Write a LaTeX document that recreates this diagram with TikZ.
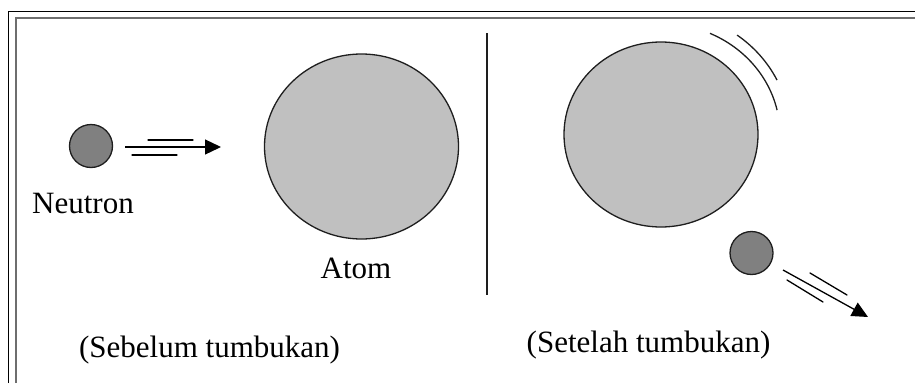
\documentclass[tikz,border=0pt]{standalone}
\usepackage{fontspec}
\setmainfont{Liberation Serif}
\usetikzlibrary{arrows.meta,positioning,shapes.geometric}
\definecolor{neutronfill}{RGB}{128,128,128}
\definecolor{atomfill}{RGB}{192,192,192}
\definecolor{rimcol}{RGB}{30,30,30}
\definecolor{framegray}{RGB}{110,110,110}
\tikzset{
  neutronbody/.style={circle, draw=rimcol, fill=neutronfill, line width=1.3pt,
    minimum size=43pt, inner sep=0pt},
  atombody/.style={ellipse, draw=rimcol, fill=atomfill, line width=1.3pt,
    minimum width=194pt, minimum height=185pt, inner sep=0pt},
  speedln/.style={line width=1.3pt, line cap=round},
  speedarr/.style={-{Triangle[length=16pt,width=15pt]}, line width=1.3pt},
  wavearc/.style={line width=1.3pt, rimcol},
  caption/.style={font=\fontsize{31}{36}\selectfont, inner sep=0pt, anchor=base},
}

\begin{document}
\begin{tikzpicture}[x=1pt, y=-1pt]
    \useasboundingbox (0,0) rectangle (915,383);
    % Frame (cut off at right and bottom)
    \draw[line width=1pt] (8.5,383) -- (8.5,11.5) -- (915,11.5);
    \draw[framegray, line width=2pt] (15.5,383) -- (15.5,18) -- (915,18);
    % Before collision
    \node[neutronbody] (nbefore) at (91,146) {};
    \node[caption] (lneutron) at (83,213) {Neutron};
    \coordinate (abefore) at (125,147);
    \coordinate (tbefore) at (221,147);
    \draw[speedarr] (abefore) -- (tbefore);
    \draw[speedln] (148,140) -- (193,140);
    \draw[speedln] (132,155) -- (177,155);
    \node[atombody] (abody) at (361.5,146.5) {};
    \node[caption] (latom) at (356,278) {Atom};
    \node[caption] (lbefore) at (209.5,357) {(Sebelum tumbukan)};
    % Divider
    \draw[line width=1.3pt, rimcol] (487,33) -- (487,295);
    % After collision
    \node[atombody] (aafter) at (661,134.5) {};
    \draw[wavearc] (aafter.center) ++(12.7:119pt and 111pt)
      arc[start angle=12.7, end angle=65.7, x radius=119pt, y radius=111pt];
    \draw[wavearc] (aafter.center) ++(26.3:129.4pt and 122.9pt)
      arc[start angle=26.3, end angle=54, x radius=129.4pt, y radius=122.9pt];
    \node[neutronbody] (nafter) at (751.5,253) {};
    \coordinate (aafterstart) at (783,270);
    \coordinate (tafter) at (868,317);
    \draw[speedarr] (aafterstart) -- (tafter);
    \draw[speedln] (810,273) -- (847,295);
    \draw[speedln] (787,280) -- (823,302);
    \node[caption] (lafter) at (648.5,352) {(Setelah tumbukan)};
\end{tikzpicture}
\end{document}
